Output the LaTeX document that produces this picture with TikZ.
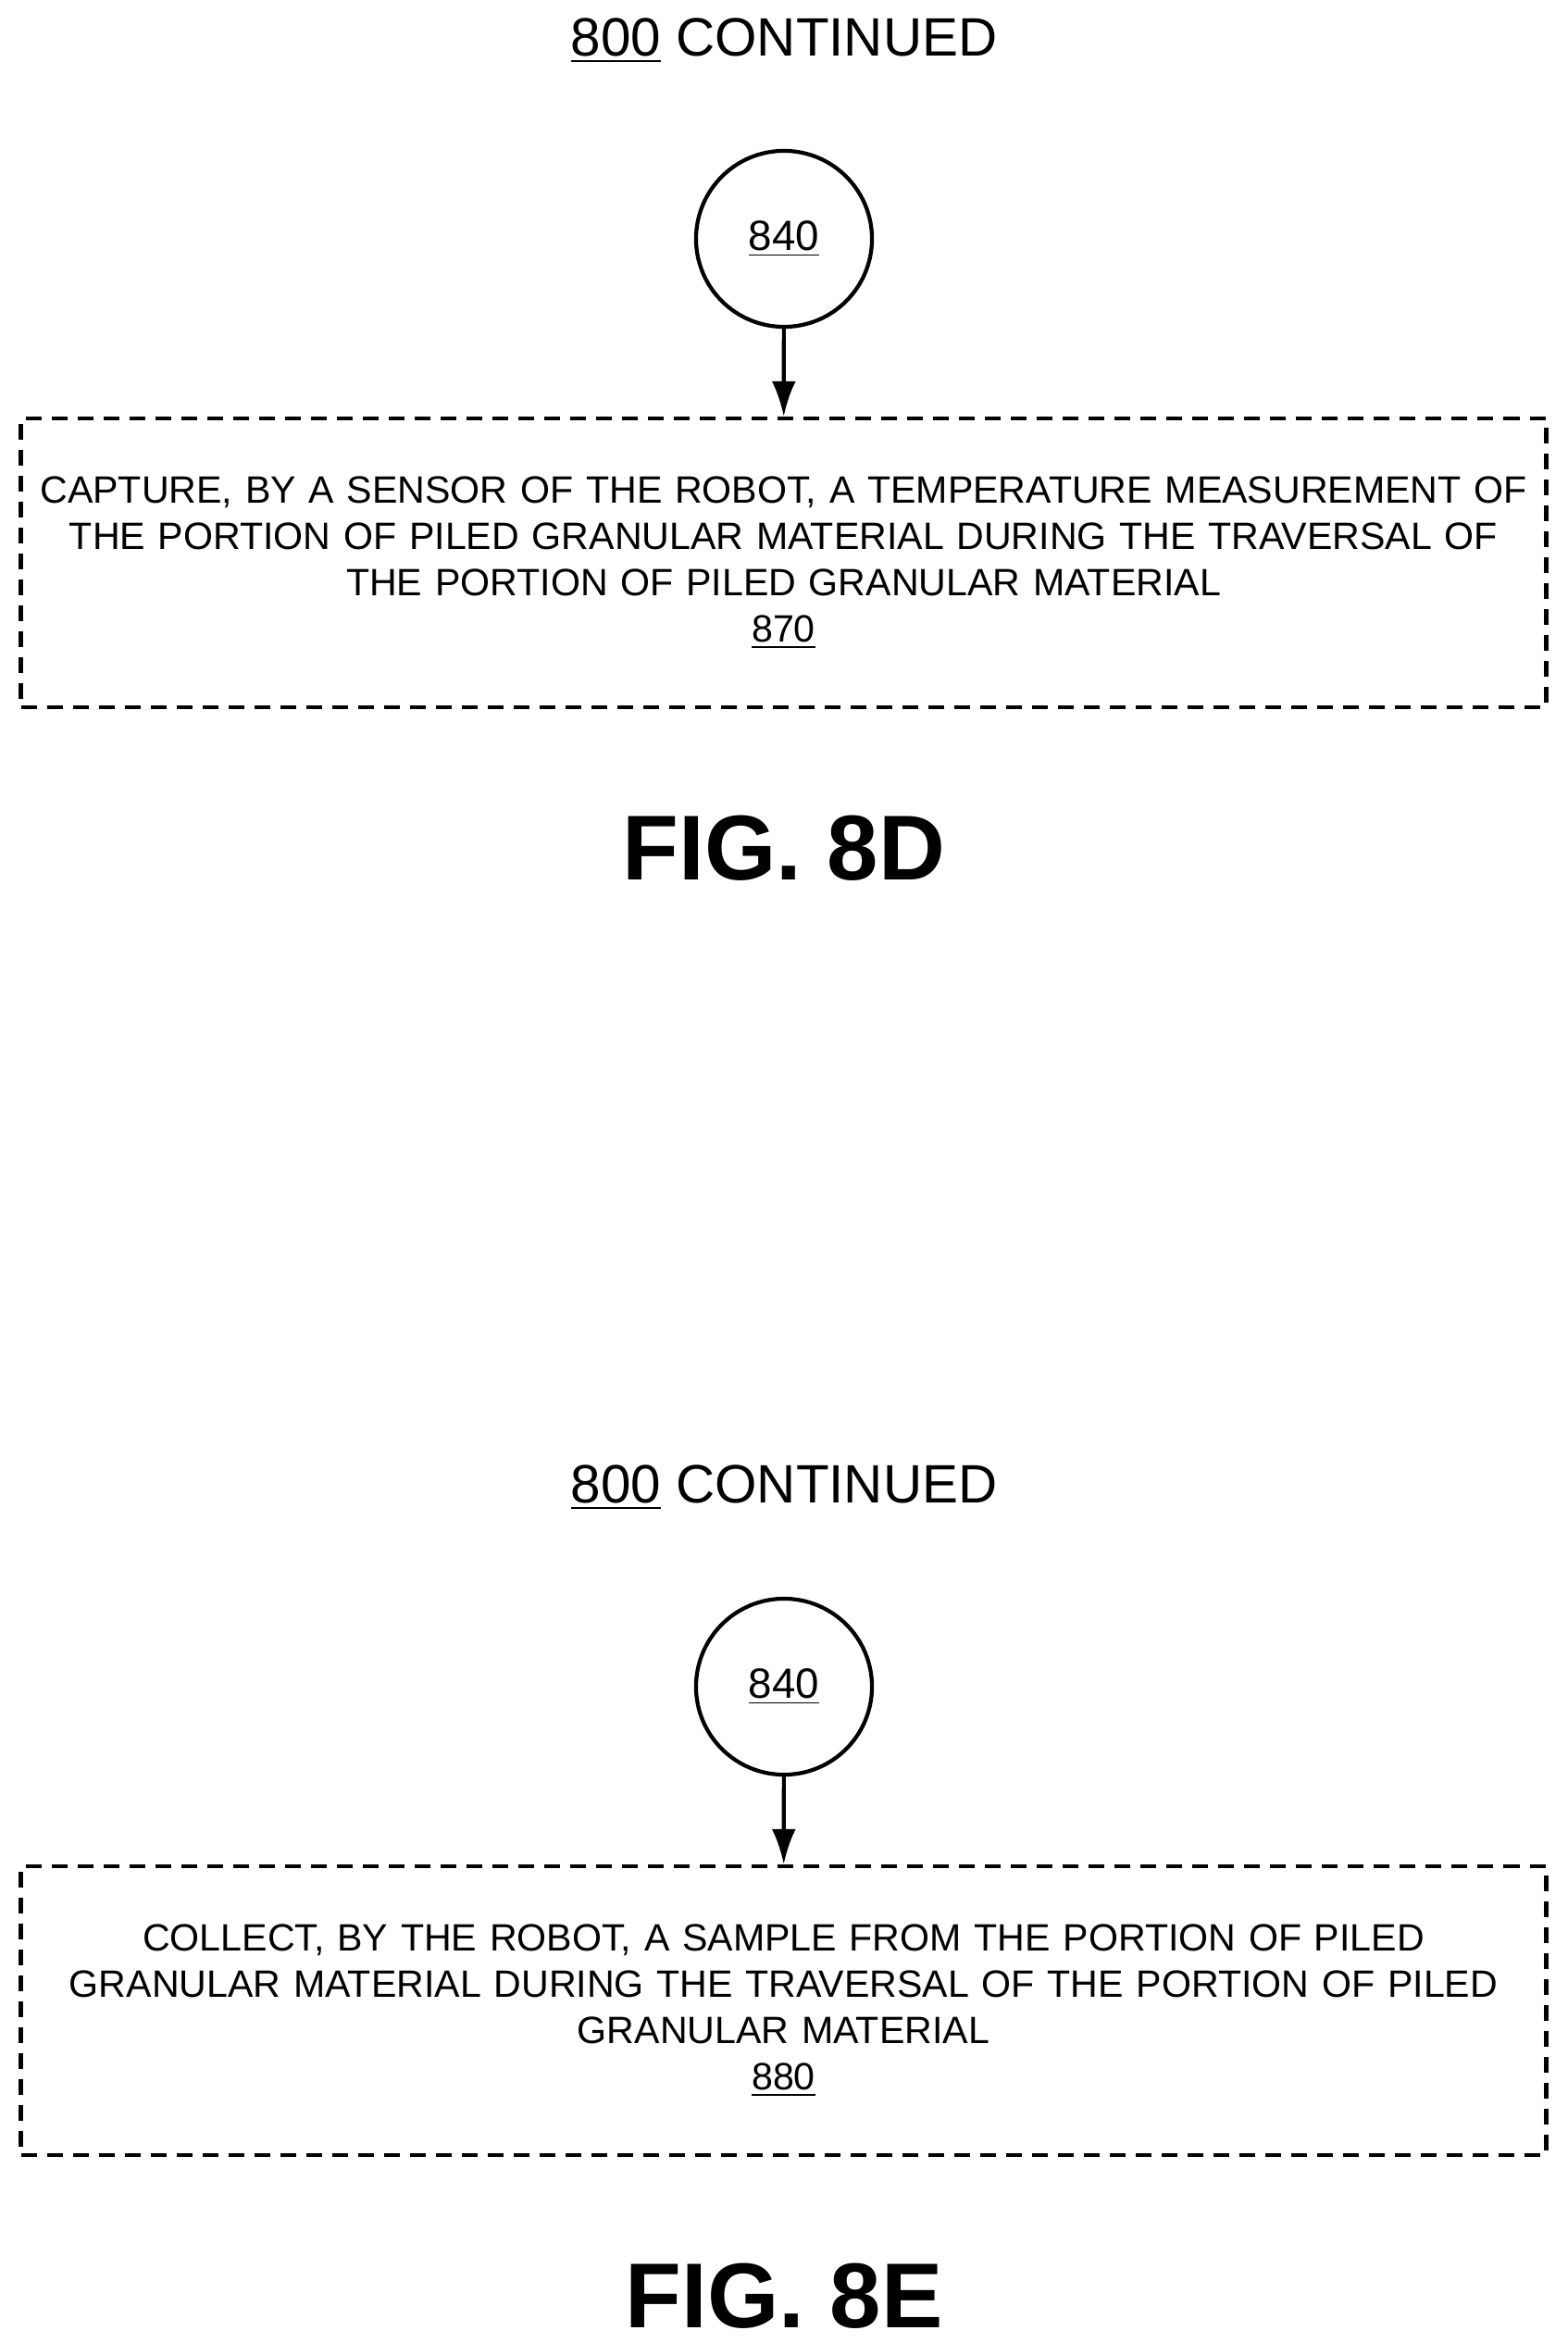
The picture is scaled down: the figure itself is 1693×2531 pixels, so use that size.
\documentclass[tikz,border=0pt]{standalone}
\usepackage{fontspec}
\setmainfont{Liberation Sans}
\usetikzlibrary{positioning, arrows.meta}

\begin{document}
\begin{tikzpicture}[x=0.01cm, y=-0.01cm,
  connector/.style={circle, draw, line width=1.2pt, minimum size=1.9cm, font=\fontsize{13}{15}\selectfont},
  optbox/.style={draw, dashed, dash pattern=on 0.17cm off 0.11cm, line width=1.2pt, inner sep=0pt, minimum height=3.12cm, text width=16.47cm, align=center, font=\fontsize{11.7}{14.2}\selectfont},
  title/.style={font=\fontsize{16.6}{20}\selectfont},
  figlabel/.style={font=\fontsize{28.3}{32}\selectfont\bfseries},
  flow/.style={-{Latex[length=0.38cm,width=0.26cm]}, line width=1.2pt}]
  \useasboundingbox (0,0) rectangle (1693,2531);
  % FIG. 8D
  \node[title] (title8d) at (847,44) {\underline{800} CONTINUED};
  \node[connector] (c840a) at (847,258) {\underline{840}};
  \node[optbox] (b870) at (846.5,608) {CAPTURE, BY A SENSOR OF THE ROBOT, A TEMPERATURE MEASUREMENT OF\\THE PORTION OF PILED GRANULAR MATERIAL DURING THE TRAVERSAL OF\\THE PORTION OF PILED GRANULAR MATERIAL\\\underline{870}};
  \draw[flow] (c840a) -- (b870);
  \node[figlabel] (fig8d) at (847,916) {FIG. 8D};
  % FIG. 8E
  \node[title] (title8e) at (847,1607) {\underline{800} CONTINUED};
  \node[connector] (c840b) at (847,1822) {\underline{840}};
  \node[optbox] (b880) at (846.5,2172) {COLLECT, BY THE ROBOT, A SAMPLE FROM THE PORTION OF PILED\\GRANULAR MATERIAL DURING THE TRAVERSAL OF THE PORTION OF PILED\\GRANULAR MATERIAL\\\underline{880}};
  \draw[flow] (c840b) -- (b880);
  \node[figlabel] (fig8e) at (847,2480) {FIG. 8E};
\end{tikzpicture}
\end{document}
